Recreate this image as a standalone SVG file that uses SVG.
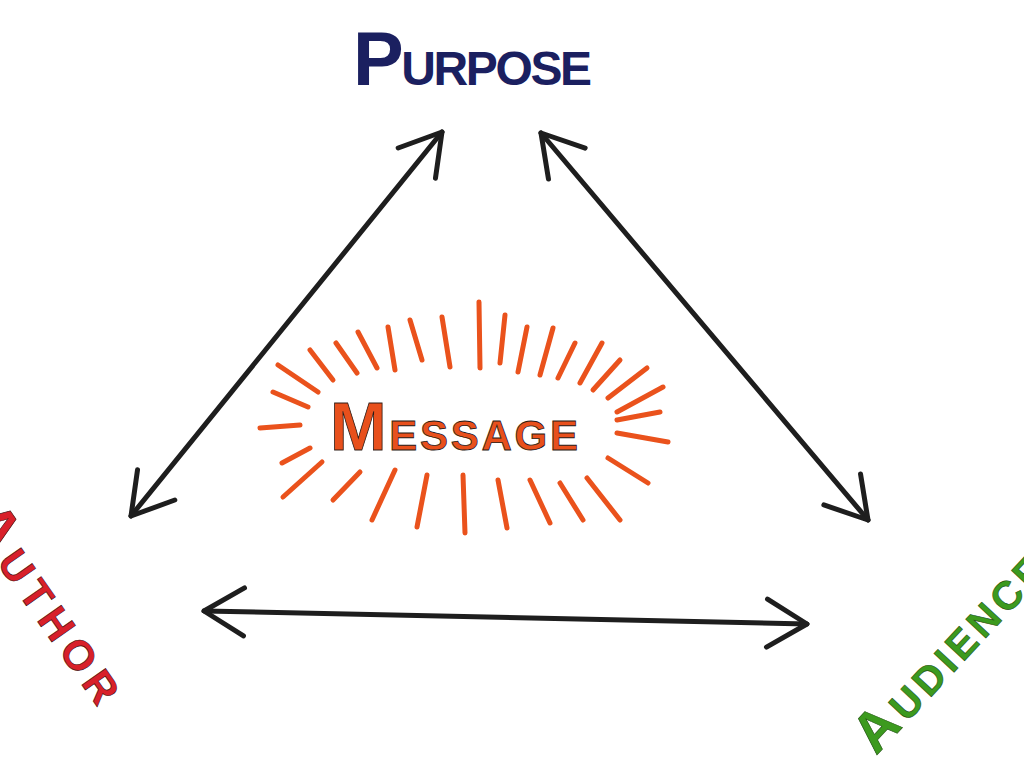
<svg xmlns="http://www.w3.org/2000/svg" width="1024" height="768" viewBox="0 0 1024 768">
<defs>
<style>
.conn{stroke:#1e1e1e;stroke-width:5;fill:none;stroke-linecap:round;stroke-linejoin:round}
.ray{stroke:#ea521c;stroke-width:5;stroke-linecap:round}
.lbl{font-family:"Liberation Sans","DejaVu Sans",sans-serif;font-weight:bold}
</style>
<marker id="head" markerUnits="userSpaceOnUse" viewBox="-50 -32 58 64" refX="0" refY="0" markerWidth="58" markerHeight="64" orient="auto-start-reverse" overflow="visible">
<path d="M-40,-24 L0,0 L-40,24" fill="none" stroke="#1e1e1e" stroke-width="5" stroke-linecap="round" stroke-linejoin="round"/>
</marker>
</defs>
<rect width="1024" height="768" fill="#ffffff"/>
<g id="connectors">
<path class="conn" d="M131,516 L442,132" marker-start="url(#head)" marker-end="url(#head)"/>
<path class="conn" d="M541,133 L868,520" marker-start="url(#head)" marker-end="url(#head)"/>
<path class="conn" d="M204,611 L807,624" marker-start="url(#head)" marker-end="url(#head)"/>
</g>
<g id="purpose">
<text class="lbl" x="353" y="85" fill="#1b2060" textLength="239" lengthAdjust="spacing"><tspan font-size="76">P</tspan><tspan font-size="48">URPOSE</tspan></text>
</g>
<g id="message">
<g id="rays">
<line class="ray" x1="278" y1="365" x2="318" y2="392"/>
<line class="ray" x1="310" y1="350" x2="333" y2="380"/>
<line class="ray" x1="336" y1="343" x2="357" y2="373"/>
<line class="ray" x1="358" y1="332" x2="377" y2="368"/>
<line class="ray" x1="388" y1="327" x2="395" y2="370"/>
<line class="ray" x1="410" y1="320" x2="422" y2="360"/>
<line class="ray" x1="442" y1="317" x2="450" y2="367"/>
<line class="ray" x1="479" y1="302" x2="480" y2="368"/>
<line class="ray" x1="505" y1="315" x2="500" y2="363"/>
<line class="ray" x1="527" y1="327" x2="518" y2="372"/>
<line class="ray" x1="553" y1="328" x2="540" y2="375"/>
<line class="ray" x1="575" y1="343" x2="558" y2="378"/>
<line class="ray" x1="602" y1="343" x2="580" y2="383"/>
<line class="ray" x1="620" y1="360" x2="593" y2="390"/>
<line class="ray" x1="647" y1="368" x2="608" y2="398"/>
<line class="ray" x1="663" y1="387" x2="617" y2="412"/>
<line class="ray" x1="660" y1="412" x2="617" y2="420"/>
<line class="ray" x1="668" y1="442" x2="617" y2="433"/>
<line class="ray" x1="648" y1="483" x2="608" y2="458"/>
<line class="ray" x1="620" y1="520" x2="587" y2="478"/>
<line class="ray" x1="583" y1="520" x2="560" y2="483"/>
<line class="ray" x1="550" y1="523" x2="530" y2="480"/>
<line class="ray" x1="507" y1="528" x2="498" y2="480"/>
<line class="ray" x1="465" y1="533" x2="463" y2="475"/>
<line class="ray" x1="417" y1="527" x2="427" y2="475"/>
<line class="ray" x1="372" y1="520" x2="395" y2="470"/>
<line class="ray" x1="333" y1="500" x2="360" y2="472"/>
<line class="ray" x1="283" y1="497" x2="322" y2="462"/>
<line class="ray" x1="282" y1="463" x2="310" y2="448"/>
<line class="ray" x1="260" y1="428" x2="300" y2="425"/>
<line class="ray" x1="273" y1="392" x2="308" y2="407"/>
</g>
<text class="lbl" x="330" y="450" fill="#e8501c" stroke="#2a1a14" stroke-width="0.8" textLength="248" lengthAdjust="spacing"><tspan font-size="68">M</tspan><tspan font-size="42">ESSAGE</tspan></text>
</g>
<g id="author">
<text class="lbl" transform="translate(-33,521) rotate(55)" fill="#d8202a" stroke="#3a0a0a" stroke-width="0.6" letter-spacing="7"><tspan font-size="60">A</tspan><tspan font-size="42">UTHOR</tspan></text>
</g>
<g id="audience">
<text class="lbl" transform="translate(876,756) rotate(-47)" fill="#3c9a1e" stroke="#1f5010" stroke-width="0.6" letter-spacing="4.5"><tspan font-size="56">A</tspan><tspan font-size="40">UDIENCE</tspan></text>
</g>
</svg>
